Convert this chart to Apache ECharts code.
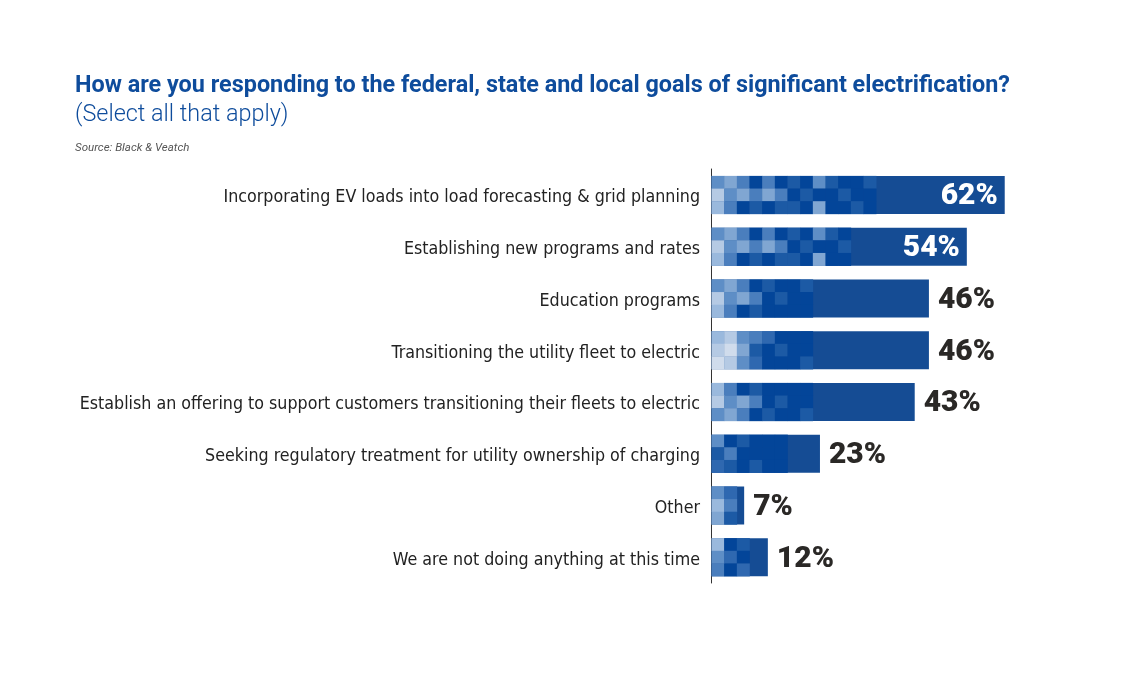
<!DOCTYPE html>
<html>
<head>
<meta charset="utf-8">
<script src="https://cdn.jsdelivr.net/npm/echarts@6/dist/echarts.min.js"></script>
<style>html,body{margin:0;padding:0;background:#fff;}#c{width:1125px;height:675px;}</style>
</head>
<body>
<div id="c"></div>
<script>
var categories = [
  'Incorporating EV loads into load forecasting & grid planning',
  'Establishing new programs and rates',
  'Education programs',
  'Transitioning the utility fleet to electric',
  'Establish an offering to support customers transitioning their fleets to electric',
  'Seeking regulatory treatment for utility ownership of charging',
  'Other',
  'We are not doing anything at this time'
];
var values = [62, 54, 46, 46, 43, 23, 7, 12];
var valueLabels = ['62%', '54%', '46%', '46%', '43%', '23%', '7%', '12%'];
// decorative mosaic shading (index into shades, per bar: 3 rows)
var shades = ['#d0dcec','#b5cae4','#9ab9dd','#80a6d2','#5e8ec6','#4a7ebd','#2f68b0','#1c5aa5','#0b4b9c','#034599'];
var mosaic = [
  ['4359597947997', '1435359799799', '2597977939979'],
  ['43595979479', '14353597997', '25979779399'],
  ['43597997', '14359799', '25979999'],
  ['21456999', '10379799', '01469997'],
  ['25979999', '14359799', '43597997'],
  ['497999', '759999', '679799'],
  ['46', '25', '37'],
  ['297', '469', '596']
];
var barColor = '#154c94';

var chart = echarts.init(document.getElementById('c'));
var FONT_LABEL = '"Liberation Sans Narrow", "DejaVu Sans Condensed", "Roboto", sans-serif';

chart.setOption({
  animation: false,
  backgroundColor: '#ffffff',
  title: [
    { text: 'How are you responding to the federal, state and local goals of significant electrification?',
      left: 70, top: 70,
      textStyle: { fontFamily: 'Roboto', fontWeight: 'bold', fontSize: 23.4, color: '#0e4c9c' } },
    { text: '(Select all that apply)',
      left: 70, top: 99,
      textStyle: { fontFamily: 'Roboto', fontWeight: 300, fontSize: 23.4, color: '#0e4c9c' } },
    { text: 'Source: Black & Veatch',
      left: 70, top: 137,
      textStyle: { fontFamily: 'Roboto', fontStyle: 'italic', fontWeight: 'normal', fontSize: 11.5, color: '#555555' } }
  ],
  grid: { left: 711, top: 169, width: 379, height: 414, containLabel: false },
  xAxis: { type: 'value', min: 0, max: 80, show: false },
  yAxis: {
    type: 'category', data: categories, inverse: true,
    axisLine: { show: true, lineStyle: { color: '#333333', width: 1 } },
    axisTick: { show: false },
    axisLabel: { show: false }
  },
  series: [{
    type: 'custom',
    data: values.map(function (v, i) { return [v, i]; }),
    encode: { x: 0, y: 1 },
    renderItem: function (params, api) {
      var v = api.value(0), idx = api.value(1);
      var start = api.coord([0, idx]);
      var end = api.coord([v, idx]);
      var band = api.size([0, 1])[1];
      var h = band * 38 / 51.75;
      var y0 = start[1] - h / 2;
      var x0 = start[0] + 0.5;
      var x1 = end[0];
      var children = [{
        type: 'text',
        style: {
          text: categories[idx],
          x: start[0] - 11,
          y: start[1] + 3,
          align: 'right',
          verticalAlign: 'middle',
          fontFamily: FONT_LABEL,
          fontSize: 17.7,
          fill: '#222222'
        }
      }, {
        type: 'rect',
        shape: { x: x0, y: y0, width: x1 - x0, height: h },
        style: { fill: barColor }
      }];
      var cw = h / 3;
      var pat = mosaic[idx];
      for (var r = 0; r < 3; r++) {
        for (var c = 0; c < pat[r].length; c++) {
          var cx = x0 + c * cw;
          if (cx >= x1) break;
          var w = Math.min(cw, x1 - cx);
          children.push({
            type: 'rect',
            shape: { x: cx, y: y0 + r * cw, width: w + 0.3, height: cw + 0.3 },
            style: { fill: shades[+pat[r][c]] }
          });
        }
      }
      var inside = v >= 50;
      children.push({
        type: 'text',
        style: {
          text: valueLabels[idx],
          x: inside ? x1 - 7 : x1 + 9,
          y: start[1] + 2,
          align: inside ? 'right' : 'left',
          verticalAlign: 'middle',
          fontFamily: 'Roboto',
          fontWeight: 900,
          fontSize: 30,
          fill: inside ? '#ffffff' : '#2a2826'
        }
      });
      return { type: 'group', children: children };
    }
  }]
});
</script>
</body>
</html>
